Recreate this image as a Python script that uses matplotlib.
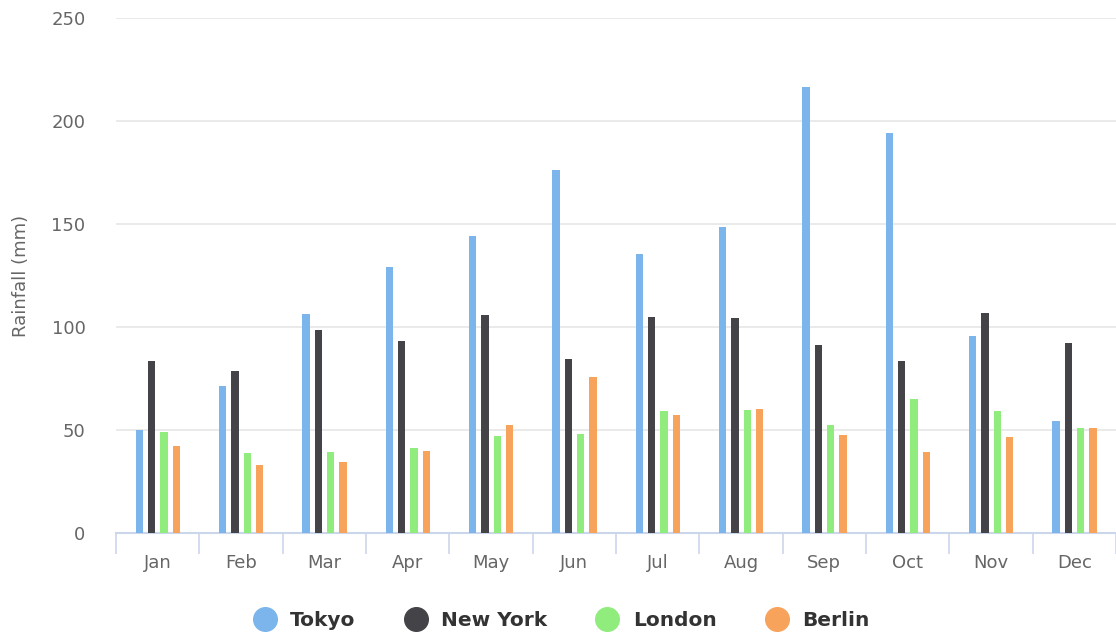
import matplotlib
matplotlib.use('Agg')
import matplotlib.pyplot as plt
from matplotlib.lines import Line2D
import numpy as np

# Monthly rainfall (mm)
months = ['Jan', 'Feb', 'Mar', 'Apr', 'May', 'Jun',
          'Jul', 'Aug', 'Sep', 'Oct', 'Nov', 'Dec']
tokyo = [49.9, 71.5, 106.4, 129.2, 144.0, 176.0, 135.6, 148.5, 216.4, 194.1, 95.6, 54.4]
new_york = [83.6, 78.8, 98.5, 93.4, 106.0, 84.5, 105.0, 104.3, 91.2, 83.5, 106.6, 92.3]
london = [48.9, 38.8, 39.3, 41.4, 47.0, 48.3, 59.0, 59.6, 52.4, 65.2, 59.3, 51.2]
berlin = [42.4, 33.2, 34.5, 39.7, 52.6, 75.5, 57.4, 60.4, 47.6, 39.1, 46.8, 51.1]

series = [('Tokyo', tokyo, '#7cb5ec'),
          ('New York', new_york, '#434348'),
          ('London', london, '#90ed7d'),
          ('Berlin', berlin, '#f7a35c')]

plt.rcParams['font.family'] = ['DejaVu Sans']

W, H = 1116, 639
fig = plt.figure(figsize=(W / 100, H / 100), dpi=100)
ax = fig.add_axes([116 / W, (H - 533) / H, (1116 - 116) / W, (533 - 18) / H])

x = np.arange(len(months))
offsets = [-0.22, -0.073, 0.077, 0.225]
for (name, vals, color), off in zip(series, offsets):
    ax.bar(x + off, vals, width=0.088, color=color, zorder=3, linewidth=0)

ax.set_xlim(-0.5, 11.5)
ax.set_ylim(0, 250)
ax.set_yticks([0, 50, 100, 150, 200, 250])
ax.yaxis.grid(True, color='#e6e6e6', linewidth=1.2, zorder=0)
ax.tick_params(axis='y', length=0, labelsize=13, labelcolor='#666666', pad=22)

# category labels centred, tick marks between categories
ax.set_xticks(x)
ax.set_xticklabels(months)
ax.set_xticks(np.arange(-0.5, 12, 1), minor=True)
ax.tick_params(axis='x', which='major', length=0, labelsize=13,
               labelcolor='#666666', pad=15)
ax.tick_params(axis='x', which='minor', length=15, width=1.2, color='#ccd6eb',
               direction='out')

for side in ['top', 'right', 'left']:
    ax.spines[side].set_visible(False)
ax.spines['bottom'].set_color('#ccd6eb')
ax.spines['bottom'].set_linewidth(1.5)

ax.set_ylabel('Rainfall (mm)', fontsize=13, color='#666666', labelpad=15)

handles = [Line2D([0], [0], marker='o', linestyle='none', markersize=17,
                  markerfacecolor=c, markeredgecolor=c) for _, _, c in series]
fig.legend(handles, [s[0] for s in series], loc='center',
           bbox_to_anchor=(557 / W, 1 - 621 / H), ncol=4, frameon=False,
           prop={'weight': 'bold', 'size': 14.5}, labelcolor='#333333',
           handletextpad=0.25, columnspacing=2.0)

fig.savefig('out.png', dpi=100)
